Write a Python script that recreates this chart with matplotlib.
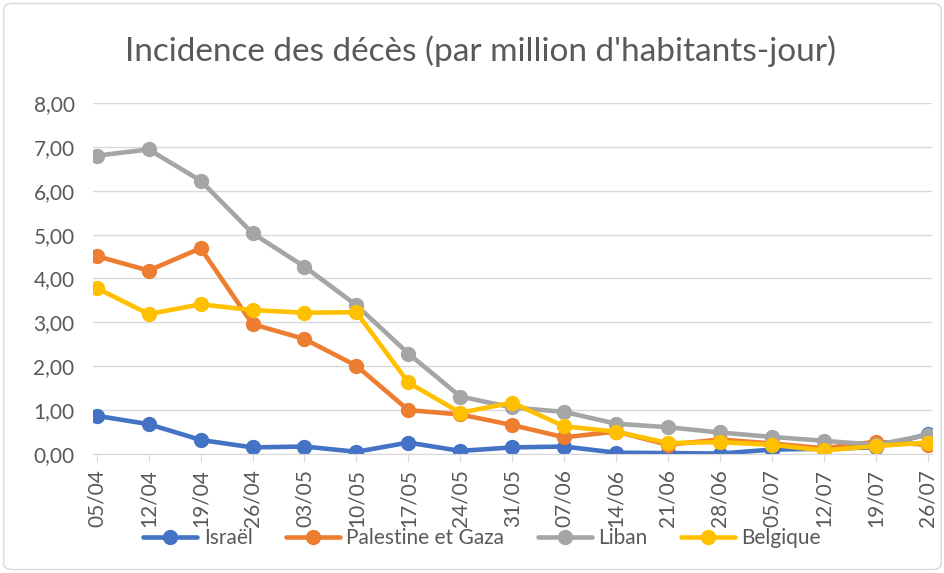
import matplotlib.pyplot as plt
from matplotlib.patches import FancyBboxPatch

plt.rcParams['font.family'] = ['Lato', 'DejaVu Sans']

dates = ["05/04", "12/04", "19/04", "26/04", "03/05", "10/05", "17/05", "24/05", "31/05",
         "07/06", "14/06", "21/06", "28/06", "05/07", "12/07", "19/07", "26/07"]

israel = [0.87, 0.68, 0.32, 0.15, 0.17, 0.05, 0.26, 0.07, 0.15,
          0.17, 0.03, 0.02, 0.01, 0.10, 0.12, 0.15, 0.45]
palestine = [4.51, 4.18, 4.69, 2.96, 2.62, 2.01, 1.00, 0.90, 0.66,
             0.38, 0.51, 0.21, 0.33, 0.24, 0.13, 0.28, 0.21]
liban = [6.80, 6.94, 6.23, 5.03, 4.27, 3.39, 2.29, 1.31, 1.06,
         0.96, 0.69, 0.61, 0.49, 0.39, 0.30, 0.21, 0.43]
belgique = [3.78, 3.19, 3.41, 3.28, 3.22, 3.23, 1.63, 0.94, 1.17,
            0.63, 0.51, 0.25, 0.27, 0.21, 0.08, 0.18, 0.26]

series = [
    ("Israël", israel, "#4472C4"),
    ("Palestine et Gaza", palestine, "#ED7D31"),
    ("Liban", liban, "#A5A5A5"),
    ("Belgique", belgique, "#FFC000"),
]

fig = plt.figure(figsize=(9.45, 5.73), dpi=100)
ax = fig.add_axes([0.098, 0.2077, 0.888, 0.6126])

x = list(range(len(dates)))
for name, vals, col in series:
    ax.plot(x, vals, color=col, lw=3.3, marker="o", markersize=10, label=name,
            solid_capstyle="round")

ax.set_ylim(0, 8)
ax.set_yticks([i for i in range(9)])
ax.set_yticklabels([f"{i},00" for i in range(9)])
ax.set_xlim(-0.08, 16.08)
ax.set_xticks(x)
ax.set_xticklabels(dates, rotation=90)

ax.grid(axis="y", color="#D9D9D9", lw=1)
ax.set_axisbelow(True)
for s in ["top", "right", "left"]:
    ax.spines[s].set_visible(False)
ax.spines["bottom"].set_color("#D9D9D9")
ax.tick_params(axis="y", length=0, labelsize=15, labelcolor="#595959", pad=13)
ax.tick_params(axis="x", length=6, color="#D9D9D9", labelsize=15,
               labelcolor="#595959", pad=5)

fig.text(0.508, 0.91, "Incidence des décès (par million d'habitants-jour)",
         ha="center", va="center", fontsize=24, color="#595959")

fig.legend(loc="center", bbox_to_anchor=(0.51, 0.061), ncol=4, frameon=False,
           fontsize=15, labelcolor="#595959", handlelength=2.6, columnspacing=1.6,
           handletextpad=0.3)

border = FancyBboxPatch((0.004, 0.006), 0.992, 0.988, boxstyle="round,pad=0,rounding_size=0.01",
                        transform=fig.transFigure, fill=False, edgecolor="#D9D9D9", lw=1)
fig.patches.append(border)

fig.savefig("out.png", dpi=100)
